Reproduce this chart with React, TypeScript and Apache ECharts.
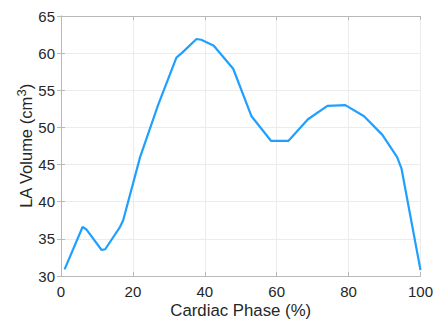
import React, { useEffect, useRef } from "react";
import * as echarts from "echarts";

const phase = [1, 6, 7, 11.3, 12.3, 16.3, 17.3, 22, 27, 32.1, 33.8, 37.7, 39, 42.5, 47.9, 53, 58.4, 63.3, 68.7, 74.1, 79.1, 84.3, 89.4, 93.5, 94.7, 100];
const volume = [30.9, 36.6, 36.3, 33.5, 33.6, 36.5, 37.5, 46, 53, 59.4, 60.1, 61.9, 61.8, 61.0, 57.9, 51.5, 48.2, 48.2, 51.1, 52.9, 53.0, 51.5, 49.0, 46.0, 44.5, 30.8];
const xTitle = "Cardiac Phase (%)";
const yTitle = "LA Volume (cm{sup|3})";

const FONT = "'Liberation Sans', Arial, sans-serif";
const TEXT = "#262626";
const BOX = "#b8b8b8";
const GRID = "#ececec";

export default function App() {
  const ref = useRef<HTMLDivElement>(null);
  useEffect(() => {
    if (!ref.current) return;
    const chart = echarts.init(ref.current, null, { renderer: "svg" });
    const tickCommon = { show: true, inside: true, length: 4, lineStyle: { color: BOX } };
    chart.setOption({
      animation: false,
      grid: { left: 61, top: 16, right: 15, bottom: 46 },
      xAxis: [
        {
          type: "value", min: 0, max: 100, interval: 20,
          name: xTitle, nameLocation: "middle", nameGap: 26,
          nameMoveOverlap: false,
          nameTextStyle: { fontSize: 16.8, color: TEXT, fontFamily: FONT },
          axisLine: { show: true, lineStyle: { color: BOX, width: 1 } },
          axisTick: tickCommon,
          axisLabel: { fontSize: 15, color: TEXT, fontFamily: FONT, margin: 8 },
          splitLine: { show: true, lineStyle: { color: GRID, width: 1 } },
        },
        {
          type: "value", min: 0, max: 100, interval: 20, position: "top",
          axisLine: { show: true, lineStyle: { color: BOX, width: 1 } },
          axisTick: tickCommon, axisLabel: { show: false }, splitLine: { show: false },
        },
      ],
      yAxis: [
        {
          type: "value", min: 30, max: 65, interval: 5,
          name: yTitle, nameLocation: "middle", nameGap: 25, nameRotate: 90,
          nameMoveOverlap: false,
          nameTextStyle: {
            fontSize: 16.5, color: TEXT, fontFamily: FONT,
            rich: { sup: { fontSize: 13, color: TEXT, fontFamily: FONT, verticalAlign: "top", padding: [0, 0, 8, 0] } },
          },
          axisLine: { show: true, lineStyle: { color: BOX, width: 1 } },
          axisTick: tickCommon,
          axisLabel: { fontSize: 15, color: TEXT, fontFamily: FONT, margin: 6 },
          splitLine: { show: true, lineStyle: { color: GRID, width: 1 } },
        },
        {
          type: "value", min: 30, max: 65, interval: 5, position: "right",
          axisLine: { show: true, lineStyle: { color: BOX, width: 1 } },
          axisTick: tickCommon, axisLabel: { show: false }, splitLine: { show: false },
        },
      ],
      series: [
        {
          type: "line",
          data: phase.map((p, i) => [p, volume[i]]),
          showSymbol: false,
          lineStyle: { color: "#1fa0ff", width: 2.2 },
          itemStyle: { color: "#1fa0ff" },
        },
      ],
    });
    return () => chart.dispose();
  }, []);
  return <div ref={ref} style={{ width: 436, height: 324, position: "absolute", left: 0, top: 0, background: "#fff" }} />;
}
